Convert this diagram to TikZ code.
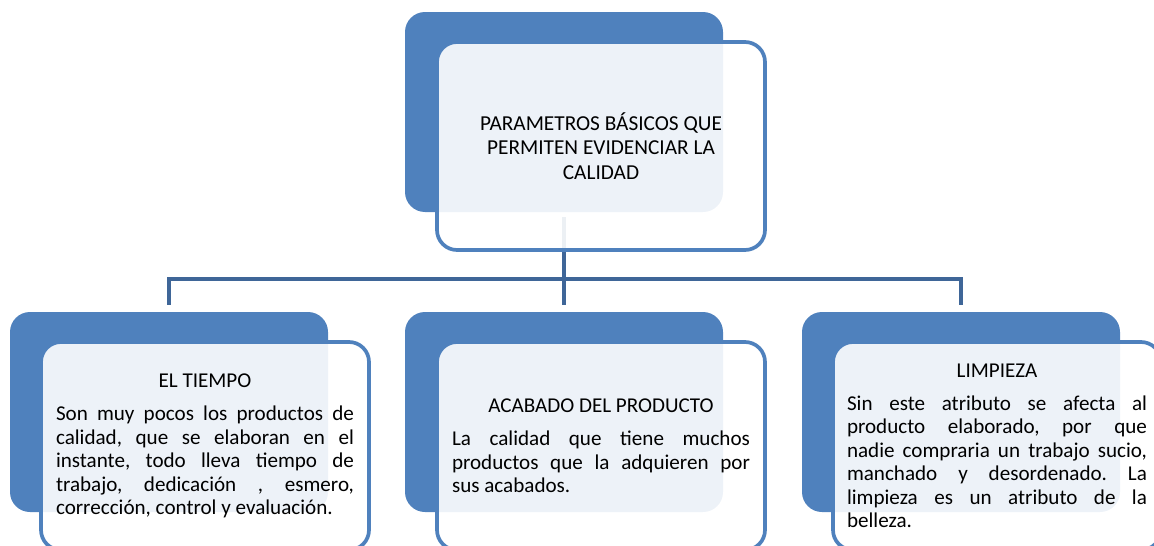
\documentclass[tikz,border=0pt]{standalone}
\usepackage{fontspec}
\setmainfont{Carlito}
\frenchspacing
\definecolor{acc}{HTML}{4F81BD}
\definecolor{conncol}{RGB}{63,102,152}
\newcommand{\bodyfont}{\fontsize{21.1pt}{23.5pt}\selectfont}
\newcommand{\cardtext}[3]{\begin{minipage}{#1}\bodyfont\frenchspacing{\centering #2\par}\vspace{9.5pt}#3\par\end{minipage}}
\tikzset{
  backbox/.style={fill=acc, draw=none, rounded corners=20pt, minimum width=318pt, minimum height=200pt, inner sep=0pt},
  frontbox/.style={fill=white, fill opacity=0.9, text opacity=1, draw=acc, draw opacity=1, line width=3.7pt, rounded corners=20pt, minimum width=328pt, minimum height=208pt, inner sep=0pt},
  conn/.style={draw=conncol, line width=4pt}
}
\begin{document}
\begin{tikzpicture}[x=1pt,y=-1pt]
\useasboundingbox (0,0) rectangle (1154,546);
\clip (0,0) rectangle (1154,546);
% back boxes
\node[backbox] (tb) at (564,112) {};
\node[backbox] (lb) at (169,412) {};
\node[backbox] (mb) at (564,412) {};
\node[backbox] (rb) at (961,412) {};
% connectors
\coordinate (bus) at ([yshift=-67pt]tb.south);
\draw[conn] ([yshift=-5pt]tb.south) -- (bus);
\draw[conn] ([yshift=7pt]lb.north) |- (bus) -| ([yshift=7pt]rb.north);
\draw[conn] (bus) -- ([yshift=7pt]mb.north);
% front boxes
\node[frontbox, align=center, font={\fontsize{21.3pt}{24.5pt}\selectfont}] (tf) at ([shift={(37,34)}]tb.center) {PARAMETROS BÁSICOS QUE\\PERMITEN EVIDENCIAR LA\\CALIDAD};
\node[frontbox] (lf) at ([shift={(36,34)}]lb.center) {\cardtext{298pt}{EL TIEMPO}{Son muy pocos los productos de\linebreak calidad, que se elaboran en el\linebreak instante, todo lleva tiempo de\linebreak trabajo, dedicación , esmero,\linebreak corrección, control y evaluación.}};
\node[frontbox] (mf) at ([shift={(37,34)}]mb.center) {\cardtext{298pt}{ACABADO DEL PRODUCTO}{La calidad que tiene muchos\linebreak productos que la adquieren por\linebreak sus acabados.}};
\node[frontbox] (rf) at ([shift={(36,34)}]rb.center) {\cardtext{300pt}{LIMPIEZA}{Sin este atributo se afecta al\linebreak producto elaborado, por que\linebreak nadie compraria un trabajo sucio,\linebreak manchado y desordenado. La\linebreak limpieza es un atributo de la\linebreak belleza.}};
\end{tikzpicture}
\end{document}
